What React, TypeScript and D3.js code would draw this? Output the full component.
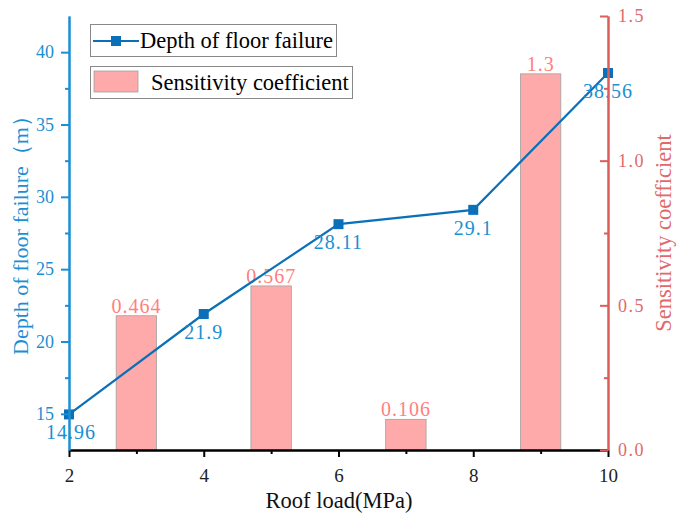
import React, { useEffect, useRef } from "react";
import * as d3 from "d3";

const roofLoad = [2, 4, 6, 8, 10];
const depth = [14.96, 21.9, 28.11, 29.1, 38.56];
const barX = [3, 5, 7, 9];
const sensitivity = [0.464, 0.567, 0.106, 1.3];
const xTicks = [2, 4, 6, 8, 10];
const xMinor = [3, 5, 7, 9];
const leftTicks = [15, 20, 25, 30, 35, 40];
const leftMinor = [17.5, 22.5, 27.5, 32.5, 37.5];
const rightTicks = [0, 0.5, 1.0, 1.5];
const rightMinor = [0.25, 0.75, 1.25];

const W = 684, H = 524;
const M = { left: 69, right: 608, top: 16, bottom: 450 };
const FONT = "Liberation Serif, Times New Roman, serif";
const BLUE_AX = "#1b8fd2";
const BLUE_LINE = "#0b70b8";
const RED_AX = "#dd5c5c";
const RED_TXT = "#e06a6a";
const BAR_LBL = "#ff8080";

export default function App() {
  const ref = useRef<SVGSVGElement>(null);
  useEffect(() => {
    const svg = d3.select(ref.current);
    svg.selectAll("*").remove();
    const x = d3.scaleLinear().domain([2, 10]).range([M.left, M.right]);
    const yL = d3.scaleLinear().domain([12.5, 42.5]).range([M.bottom, M.top]);
    const yR = d3.scaleLinear().domain([0, 1.5]).range([M.bottom, M.top]);
    const barW = x(2.6) - x(2);

    // bars
    svg.append("g").selectAll("rect").data(barX).join("rect")
      .attr("x", (d) => x(d) - barW / 2)
      .attr("y", (d, i) => yR(sensitivity[i]))
      .attr("width", barW)
      .attr("height", (d, i) => yR(0) - yR(sensitivity[i]))
      .attr("fill", "#ffaaaa")
      .attr("stroke", "#a0a0a0")
      .attr("stroke-width", 0.8);
    svg.append("g").selectAll("text").data(barX).join("text")
      .attr("x", (d) => x(d))
      .attr("y", (d, i) => yR(sensitivity[i]) - 3)
      .attr("text-anchor", "middle")
      .style("font-family", FONT).style("font-size", "20px").style("letter-spacing", "1px")
      .attr("fill", BAR_LBL)
      .text((d, i) => String(sensitivity[i]));

    // line
    const line = d3.line<number>().x((d, i) => x(roofLoad[i])).y((d) => yL(d));
    svg.append("path").datum(depth).attr("d", line)
      .attr("fill", "none").attr("stroke", BLUE_LINE).attr("stroke-width", 2.2);
    svg.append("g").selectAll("rect").data(depth).join("rect")
      .attr("x", (d, i) => x(roofLoad[i]) - 5)
      .attr("y", (d) => yL(d) - 5)
      .attr("width", 10).attr("height", 10)
      .attr("fill", BLUE_LINE);
    svg.append("g").selectAll("text").data(depth).join("text")
      .attr("x", (d, i) => x(roofLoad[i]) + (i === 0 ? 2 : 0))
      .attr("y", (d) => yL(d) + 25)
      .attr("text-anchor", "middle")
      .style("font-family", FONT).style("font-size", "20px").style("letter-spacing", "1px")
      .attr("fill", BLUE_AX)
      .text((d) => String(d));

    const styleAxis = (g: any, color: string, size: number) => {
      g.selectAll(".domain").attr("stroke", color).attr("stroke-width", 2);
      g.selectAll(".tick line").attr("stroke", color).attr("stroke-width", 2);
      g.selectAll("text").style("font-family", FONT).style("font-size", `${size}px`);
    };

    // bottom axis
    const gx = svg.append("g").attr("transform", `translate(0,${M.bottom})`);
    gx.call(d3.axisBottom(x).tickValues(xTicks).tickSize(7).tickSizeOuter(0).tickPadding(12).tickFormat(d3.format("d")) as any);
    styleAxis(gx, "#000", 19);
    gx.selectAll("text").attr("fill", "#222");
    const gxm = svg.append("g").attr("transform", `translate(0,${M.bottom})`);
    gxm.call(d3.axisBottom(x).tickValues(xMinor).tickSize(4).tickSizeOuter(0).tickFormat(() => "") as any);
    styleAxis(gxm, "#000", 19);

    // left axis
    const gl = svg.append("g").attr("transform", `translate(${M.left},0)`);
    gl.call(d3.axisLeft(yL).tickValues(leftTicks).tickSize(8).tickSizeOuter(0).tickPadding(7) as any);
    styleAxis(gl, BLUE_AX, 18);
    gl.selectAll("text").attr("fill", BLUE_AX);
    const glm = svg.append("g").attr("transform", `translate(${M.left},0)`);
    glm.call(d3.axisLeft(yL).tickValues(leftMinor).tickSize(4).tickSizeOuter(0).tickFormat(() => "") as any);
    styleAxis(glm, BLUE_AX, 18);

    // right axis (ticks inward)
    const gr = svg.append("g").attr("transform", `translate(${M.right},0)`);
    gr.call(d3.axisRight(yR).tickValues(rightTicks).tickSize(-8).tickSizeOuter(0).tickPadding(10).tickFormat(d3.format(".1f")) as any);
    styleAxis(gr, RED_AX, 18);
    gr.selectAll("text").attr("fill", RED_TXT).style("letter-spacing", "1.5px");
    const grm = svg.append("g").attr("transform", `translate(${M.right},0)`);
    grm.call(d3.axisRight(yR).tickValues(rightMinor).tickSize(-4).tickSizeOuter(0).tickFormat(() => "") as any);
    styleAxis(grm, RED_AX, 18);

    // axis titles
    svg.append("text").attr("x", 339).attr("y", 508).attr("text-anchor", "middle")
      .style("font-family", FONT).style("font-size", "22.5px").attr("fill", "#111").text("Roof load(MPa)");
    svg.append("text").attr("transform", "translate(28,230) rotate(-90)").attr("text-anchor", "middle")
      .style("font-family", FONT).style("font-size", "22px").attr("fill", BLUE_AX).text("Depth of floor failure（m）");
    svg.append("text").attr("transform", "translate(671,233) rotate(-90)").attr("text-anchor", "middle")
      .style("font-family", FONT).style("font-size", "22.5px").attr("fill", RED_TXT).text("Sensitivity coefficient");

    // legend
    const lg = svg.append("g");
    lg.append("rect").attr("x", 90.5).attr("y", 24.5).attr("width", 246).attr("height", 32)
      .attr("fill", "#fff").attr("stroke", "#888").attr("stroke-width", 1);
    lg.append("line").attr("x1", 93).attr("x2", 139).attr("y1", 41).attr("y2", 41)
      .attr("stroke", BLUE_LINE).attr("stroke-width", 2.2);
    lg.append("rect").attr("x", 111).attr("y", 36).attr("width", 10).attr("height", 10).attr("fill", BLUE_LINE);
    lg.append("text").attr("x", 140).attr("y", 48).style("font-family", FONT).style("font-size", "22.5px")
      .attr("fill", "#000").text("Depth of floor failure");
    lg.append("rect").attr("x", 90.5).attr("y", 66.5).attr("width", 262).attr("height", 32)
      .attr("fill", "#fff").attr("stroke", "#888").attr("stroke-width", 1);
    lg.append("rect").attr("x", 94).attr("y", 71).attr("width", 44).attr("height", 21)
      .attr("fill", "#ffaaaa").attr("stroke", "#a0a0a0").attr("stroke-width", 0.8);
    lg.append("text").attr("x", 151).attr("y", 90).style("font-family", FONT).style("font-size", "22.5px")
      .attr("fill", "#000").text("Sensitivity coefficient");
  }, []);
  return (
    <svg ref={ref} width={W} height={H} style={{ position: "absolute", left: 0, top: 0, background: "#fff" }} />
  );
}
